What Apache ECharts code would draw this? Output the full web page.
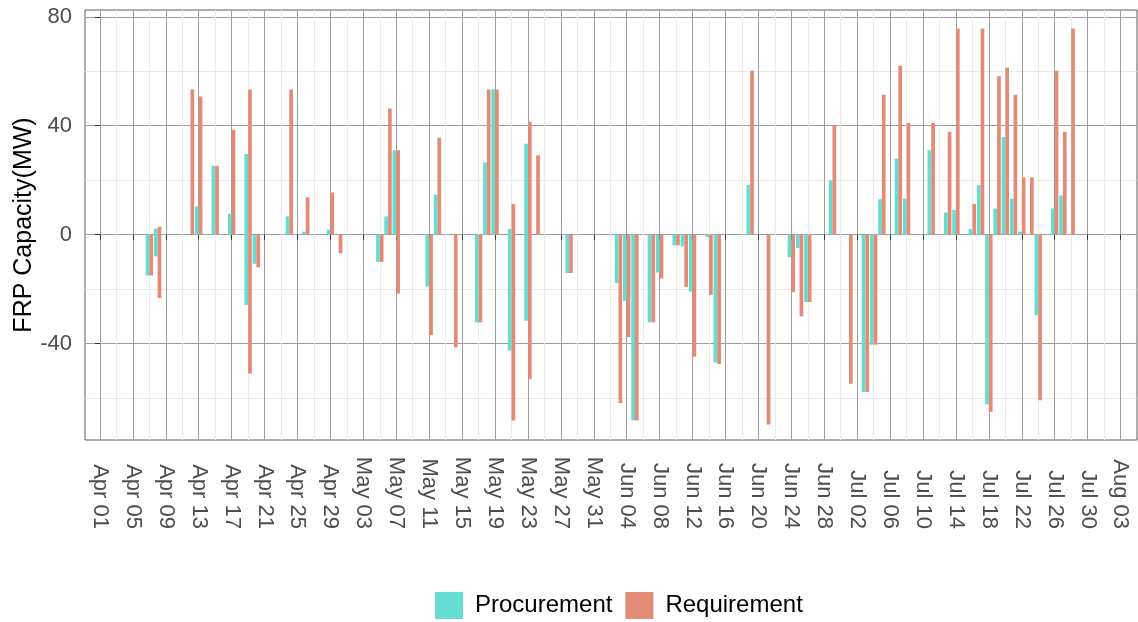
<!DOCTYPE html>
<html><head><meta charset="utf-8">
<script src="https://cdn.jsdelivr.net/npm/echarts@6/dist/echarts.min.js"></script>
<style>html,body{margin:0;padding:0;background:#fff}#c{width:1138px;height:622px}</style>
</head><body><div id="c"></div>
<script>
// ---- data ----
const dates = ['2021-04-07','2021-04-08','2021-04-12','2021-04-13','2021-04-15','2021-04-17','2021-04-19','2021-04-20','2021-04-24','2021-04-26','2021-04-29','2021-04-30',
  '2021-05-05','2021-05-06','2021-05-07','2021-05-11','2021-05-12','2021-05-14','2021-05-17','2021-05-18','2021-05-19','2021-05-21','2021-05-23','2021-05-24','2021-05-28',
  '2021-06-03','2021-06-04','2021-06-05','2021-06-07','2021-06-08','2021-06-10','2021-06-11','2021-06-12','2021-06-14','2021-06-15','2021-06-19','2021-06-21','2021-06-24','2021-06-25','2021-06-26','2021-06-29',
  '2021-07-01','2021-07-03','2021-07-04','2021-07-05','2021-07-07','2021-07-08','2021-07-11','2021-07-13','2021-07-14','2021-07-16','2021-07-17','2021-07-18','2021-07-19','2021-07-20','2021-07-21','2021-07-22','2021-07-23','2021-07-24','2021-07-26','2021-07-27','2021-07-28'];

const procurement = [-15, 2.2, null, 10.4, 25.3, 7.7, 29.6, -10.7, 6.7, 1.1, 1.8, null,
  -10, 6.7, 31, -19, 14.7, null, -32.2, 26.5, 53.3, 2.1, 33.4, null, -14.1,
  -17.8, -24.3, -68.2, -32.2, -13.9, -3.9, -4.3, -20.9, -0.9, -46.9, 18.2, null, -8.3, -4.9, -24.7, 20,
  null, -57.8, -40.4, 13, 27.9, 13.2, 31, 8.1, 9.1, 2.1, 18.2, -62.3, 9.6, 35.9, 13.2, 1.1, null, -29.5, 9.6, 14.4, null];

const requirement = [-15, 2.9, 53.3, 50.7, 25.3, 38.5, 53.3, -12, 53.3, 13.7, 15.5, -6.8,
  -10, 46.3, 31, -36.9, 35.6, -41.4, -32.2, 53.3, 53.3, 11.3, 41.5, 29.1, -14.1,
  -61.8, -37.6, -68.2, -32.2, -16.1, -3.9, -19.2, -44.8, -22.1, -47.5, 60.2, -69.7, -21.1, -30, -24.7, 40,
  -54.7, -57.8, -40.4, 51.4, 62, 41, 41, 37.8, 75.7, 11.3, 75.7, -65, 58.2, 61.4, 51.4, 21, 21, -60.8, 60.2, 37.8, 75.7];

// second (opposite-sign) records on the same day, drawn overlapping from zero
const procurementExtraDates = ['2021-04-08','2021-04-19','2021-05-21','2021-05-23'];
const procurementExtra = [-8.0, -25.8, -42.6, -31.6];
const requirementExtraDates = ['2021-04-08','2021-04-19','2021-05-07','2021-05-21','2021-05-23'];
const requirementExtra = [-23.3, -51, -21.6, -68.2, -53.1];

const tickLabels = ['Apr 01','Apr 05','Apr 09','Apr 13','Apr 17','Apr 21','Apr 25','Apr 29','May 03','May 07','May 11','May 15','May 19','May 23','May 27','May 31',
  'Jun 04','Jun 08','Jun 12','Jun 16','Jun 20','Jun 24','Jun 28','Jul 02','Jul 06','Jul 10','Jul 14','Jul 18','Jul 22','Jul 26','Jul 30','Aug 03'];
const yTickValues = [-40, 0, 40, 80];

// ---- helpers ----
const base = Date.UTC(2021, 3, 1);
function dayIndex(s) { return Math.round((Date.parse(s + 'T00:00:00Z') - base) / 86400000); }
const xTickValues = tickLabels.map((_, i) => i * 4);
function aligned(extraDates, extraVals) {
  return dates.map(d => { const k = extraDates.indexOf(d); return k >= 0 ? extraVals[k] : null; });
}
const TEAL = '#65DDD1', SALMON = '#E38B77';
const FONT = "'Liberation Sans', Arial, Helvetica, sans-serif";

function barSeries(name, stack, vals, color) {
  return {
    name, type: 'bar', stack, barWidth: 3.7, barGap: '0%',
    itemStyle: { color },
    data: dates.map((d, i) => [dayIndex(d), vals[i]])
  };
}

const chart = echarts.init(document.getElementById('c'), null, { renderer: 'canvas' });
chart.setOption({
  animation: false,
  backgroundColor: '#fff',
  textStyle: { fontFamily: FONT },
  grid: { left: 85, right: 1, top: 10, bottom: 182, show: true, borderColor: '#5a5a5a', borderWidth: 1,
    backgroundColor: 'transparent', containLabel: false, outerBoundsMode: 'none' },
  legend: {
    data: ['Procurement', 'Requirement'], left: 435, top: 592, padding: 0, icon: 'rect',
    itemWidth: 28, itemHeight: 27, itemGap: 13,
    textStyle: { fontSize: 24, color: '#000', fontFamily: FONT, padding: [0, 0, 0, 7] }
  },
  xAxis: {
    type: 'value', min: -1.82, max: 126, minInterval: 4, maxInterval: 4,
    axisLine: { show: false },
    axisTick: { show: true, length: 5, lineStyle: { color: '#333' }, customValues: xTickValues },
    axisLabel: {
      customValues: xTickValues, rotate: -90, align: 'right', margin: 89,
      fontSize: 22, color: '#4d4d4d', fontFamily: FONT,
      formatter: v => tickLabels[Math.round(v / 4)] || ''
    },
    splitLine: { show: true, lineStyle: { color: '#9e9e9e', width: 1 } },
    minorTick: { show: false, splitNumber: 2 },
    minorSplitLine: { show: true, lineStyle: { color: '#ebebeb', width: 1 } }
  },
  yAxis: {
    type: 'value', min: -75.4, max: 82.5, minInterval: 40, maxInterval: 40,
    name: 'FRP Capacity(MW)', nameLocation: 'middle', nameGap: 48, nameMoveOverlap: false,
    nameTextStyle: { fontSize: 25, color: '#000', fontFamily: FONT },
    axisLine: { show: false },
    axisTick: { show: true, length: 5, lineStyle: { color: '#333' }, customValues: yTickValues },
    axisLabel: { customValues: yTickValues, fontSize: 22, color: '#4d4d4d', margin: 13, fontFamily: FONT },
    splitLine: { show: true, lineStyle: { color: '#9e9e9e', width: 1 } },
    minorTick: { show: false, splitNumber: 2 },
    minorSplitLine: { show: true, lineStyle: { color: '#ebebeb', width: 1 } }
  },
  series: [
    barSeries('Procurement', 'p', procurement, TEAL),
    barSeries('Procurement', 'p', aligned(procurementExtraDates, procurementExtra), TEAL),
    barSeries('Requirement', 'r', requirement, SALMON),
    barSeries('Requirement', 'r', aligned(requirementExtraDates, requirementExtra), SALMON)
  ]
});
</script>
</body></html>
